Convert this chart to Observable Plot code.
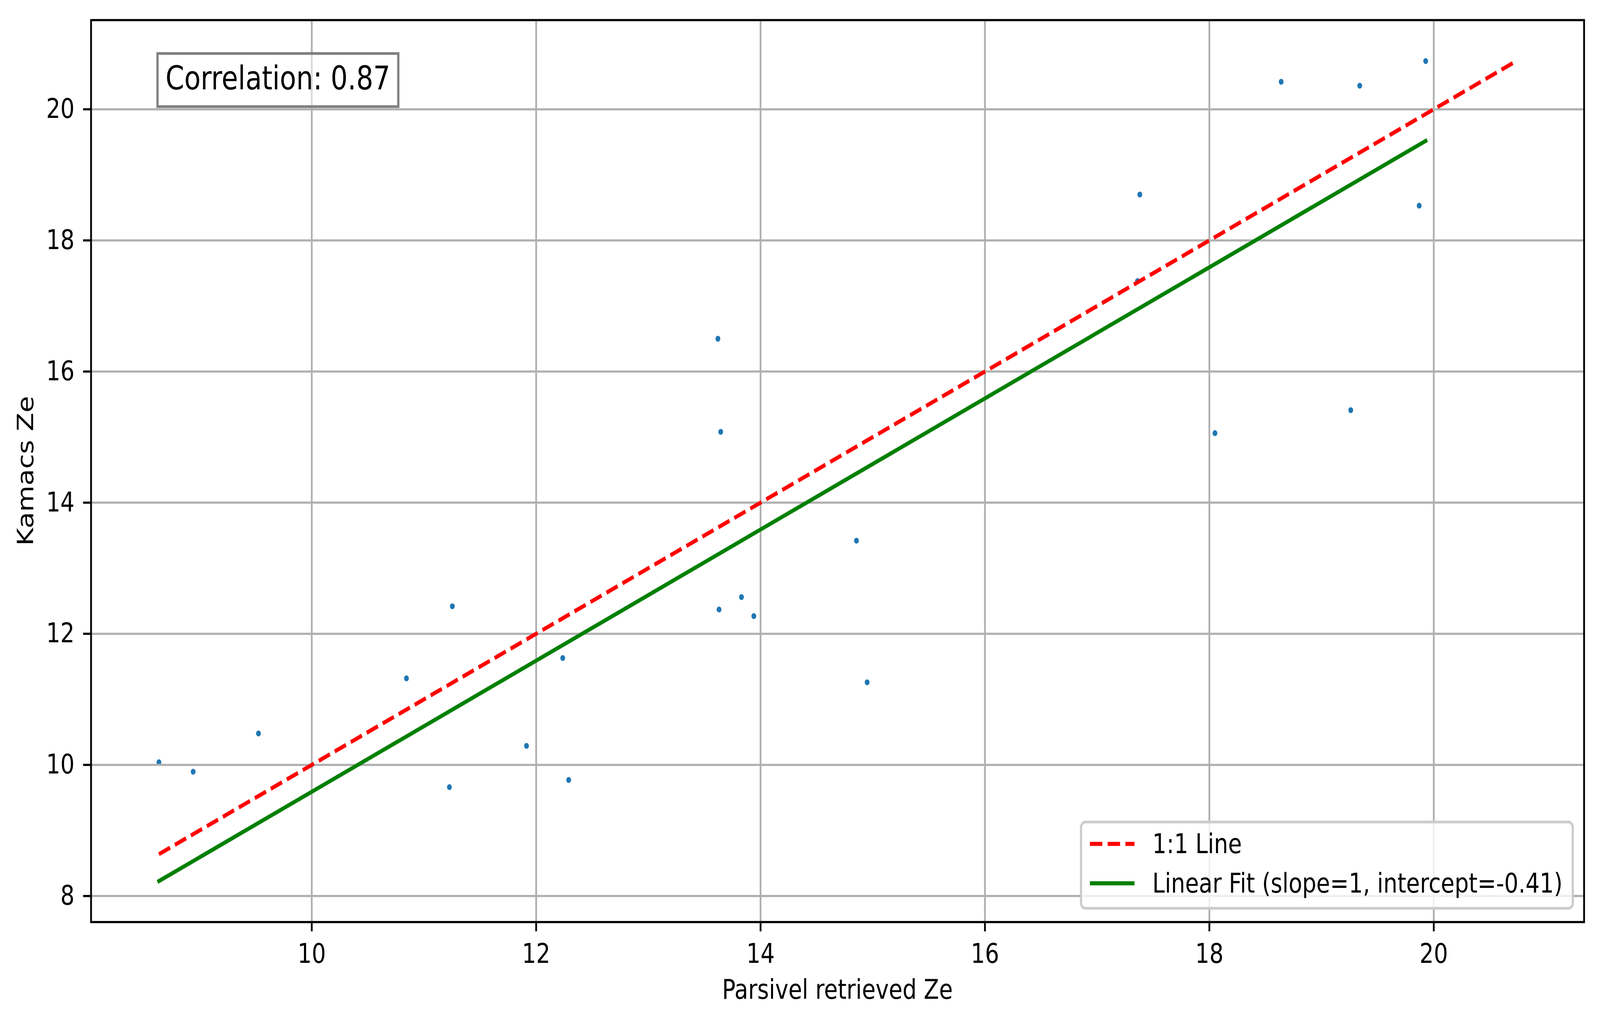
<!DOCTYPE html>
<html><head><meta charset="utf-8">
<script src="https://cdn.jsdelivr.net/npm/d3@7"></script>
<script src="https://cdn.jsdelivr.net/npm/@observablehq/plot@0.6"></script>
<style>html,body{margin:0;padding:0;background:#fff;overflow:hidden;} #chart svg{display:block;}</style>
</head><body><div id="chart"></div>
<script>
// ---- data ----
const parsivelZe = [8.638, 8.943, 9.525, 10.844, 11.253, 11.227, 11.914, 12.237, 12.290, 13.620, 13.645, 13.630, 13.830, 13.940, 14.855, 14.950, 17.360, 17.380, 18.050, 18.640, 19.340, 19.260, 19.870, 19.928];
const kamacsZe   = [10.04, 9.896, 10.48, 11.32, 12.42, 9.66, 10.29, 11.63, 9.77, 16.50, 15.08, 12.37, 12.56, 12.27, 13.42, 11.26, 17.38, 18.70, 15.06, 20.42, 20.36, 15.41, 18.53, 20.735];
const xTicks = [10, 12, 14, 16, 18, 20];
const yTicks = [8, 10, 12, 14, 16, 18, 20];
const fitSlope = 1;
const fitIntercept = -0.41;
const correlation = 0.87;
const xLabel = "Parsivel retrieved Ze";
const yLabel = "Kamacs Ze";
const legendLabels = ["1:1 Line", `Linear Fit (slope=${fitSlope}, intercept=${fitIntercept})`];

// ---- layout ----
const W = 4981, H = 2620;
const PT = 500 / 72;            // px per point
const FS = 10 * PT;             // base font size
const margin = {left: 283, right: 50, top: 51, bottom: 259};
const FONT = "DejaVu Sans";

const points = parsivelZe.map((x, i) => ({x, y: kamacsZe[i]}));
const xMin = d3.min(parsivelZe), xMax = d3.max(parsivelZe);
const lo = Math.min(xMin, d3.min(kamacsZe)), hi = Math.max(xMax, d3.max(kamacsZe));
const oneToOne = [{x: lo, y: lo}, {x: hi, y: hi}];
const fit = [xMin, xMax].map(x => ({x, y: fitSlope * x + fitIntercept}));
const pad = ([a, b]) => { const m = (b - a) * 0.05; return [a - m, b + m]; };
const xDomain = pad(d3.extent([...parsivelZe, lo, hi]));
const yDomain = pad(d3.extent([...kamacsZe, lo, hi, ...fit.map(d => d.y)]));

const plot = Plot.plot({
  width: W, height: H,
  marginLeft: margin.left, marginRight: margin.right, marginTop: margin.top, marginBottom: margin.bottom,
  style: {fontFamily: FONT, fontSize: FS + "px", background: "white", color: "black"},
  x: {domain: xDomain, label: null},
  y: {domain: yDomain, label: null},
  marks: [
    Plot.dot(points, {x: "x", y: "y", r: 7.5, fill: "#1f77b4", stroke: "none"}),
    Plot.gridX(xTicks, {stroke: "#b0b0b0", strokeOpacity: 1, strokeWidth: 0.8 * PT}),
    Plot.gridY(yTicks, {stroke: "#b0b0b0", strokeOpacity: 1, strokeWidth: 0.8 * PT}),
    Plot.line(oneToOne, {x: "x", y: "y", stroke: "red", strokeWidth: 1.5 * PT,
      strokeDasharray: `${5.55 * PT},${2.4 * PT}`, strokeLinecap: "butt"}),
    Plot.line(fit, {x: "x", y: "y", stroke: "green", strokeWidth: 1.5 * PT, strokeLinecap: "square"}),
    Plot.frame({stroke: "black", strokeWidth: 0.8 * PT}),
    Plot.axisX(xTicks, {tickSize: 3.5 * PT, tickPadding: 31, fontSize: FS, strokeWidth: 0.8 * PT,
      label: null, tickFormat: d => String(d)}),
    Plot.axisY(yTicks, {tickSize: 3.5 * PT, tickPadding: 27, fontSize: FS, strokeWidth: 0.8 * PT,
      label: null, tickFormat: d => String(d)})
  ]
});
// fill the browser window exactly with the 4981x2620 drawing
plot.setAttribute("viewBox", `0 0 ${W} ${H}`);
plot.setAttribute("preserveAspectRatio", "none");
plot.style.width = "100vw";
plot.style.height = "100vh";
plot.style.maxWidth = "none";
document.getElementById("chart").appendChild(plot);

// ---- annotations (axis titles, correlation box, legend) ----
const svg = d3.select(plot);
const axL = margin.left, axR = W - margin.right, axT = margin.top, axB = H - margin.bottom;
const axW = axR - axL, axH = axB - axT;

svg.append("text").attr("x", (axL + axR) / 2).attr("y", 2558)
  .attr("text-anchor", "middle").attr("font-family", FONT).attr("font-size", FS).attr("fill", "black")
  .text(xLabel);
svg.append("text").attr("transform", `translate(103,${(axT + axB) / 2}) rotate(-90)`)
  .attr("text-anchor", "middle").attr("font-family", FONT).attr("font-size", FS).attr("fill", "black")
  .text(yLabel);

// correlation box
const cg = svg.append("g");
const cRect = cg.append("rect");
const cx = axL + 0.05 * axW;
const cText = cg.append("text").attr("x", cx).attr("y", 229).attr("text-anchor", "start")
  .attr("font-family", FONT).attr("font-size", 12 * PT).attr("fill", "black")
  .text(`Correlation: ${correlation.toFixed(2)}`);
const cw = cText.node().getComputedTextLength();
cRect.attr("x", cx - 25).attr("y", 137).attr("width", cw + 50).attr("height", 136)
  .attr("fill", "white").attr("fill-opacity", 0.5)
  .attr("stroke", "#808080").attr("stroke-width", 1 * PT);

// legend
const lg = svg.append("g");
const lRect = lg.append("rect");
const handleLen = 2 * FS, handlePad = 0.8 * FS, bpad = 0.4 * FS;
const lRight = axR - 0.5 * FS, lBottom = axB - 0.5 * FS, lHeight = 221;
const texts = legendLabels.map(t => lg.append("text").attr("font-family", FONT).attr("font-size", FS)
  .attr("text-anchor", "start").attr("fill", "black").attr("dominant-baseline", "central").text(t));
const tw = d3.max(texts, t => t.node().getComputedTextLength());
const lWidth = bpad + handleLen + handlePad + tw + bpad + 4;
const lLeft = lRight - lWidth, lTop = lBottom - lHeight;
lRect.attr("x", lLeft).attr("y", lTop).attr("width", lWidth).attr("height", lHeight)
  .attr("rx", 0.2 * FS).attr("ry", 0.2 * FS)
  .attr("fill", "white").attr("fill-opacity", 0.8)
  .attr("stroke", "#cccccc").attr("stroke-width", 1 * PT);
const rowY = [lTop + 56, lTop + 157];
const hx0 = lLeft + bpad, hx1 = hx0 + handleLen;
lg.append("line").attr("x1", hx0).attr("x2", hx1).attr("y1", rowY[0]).attr("y2", rowY[0])
  .attr("stroke", "red").attr("stroke-width", 1.5 * PT).attr("stroke-dasharray", `${5.55 * PT},${2.4 * PT}`);
lg.append("line").attr("x1", hx0).attr("x2", hx1).attr("y1", rowY[1]).attr("y2", rowY[1])
  .attr("stroke", "green").attr("stroke-width", 1.5 * PT);
texts.forEach((t, i) => t.attr("x", hx1 + handlePad).attr("y", rowY[i]));
</script>
</body></html>
